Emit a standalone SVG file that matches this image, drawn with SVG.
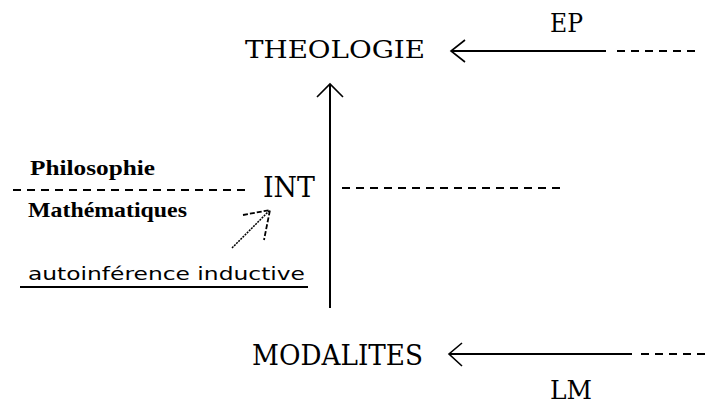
<svg xmlns="http://www.w3.org/2000/svg" width="711" height="405" viewBox="0 0 711 405">
<style>
.big{font-family:"DejaVu Serif","Liberation Serif",serif;fill:#000}
.small{font-family:"Liberation Serif","DejaVu Serif",serif;font-weight:bold;font-size:21px;fill:#000}
.sans{font-family:"DejaVu Sans","Liberation Sans",sans-serif;font-size:18px;fill:#000}
.solid{stroke:#000;stroke-width:2;fill:none}
.head{stroke:#000;stroke-width:1.6;fill:none}
.dash{stroke:#000;stroke-width:2;fill:none;stroke-dasharray:8 6}
</style>
<rect width="711" height="405" fill="#fff"/>
<g id="theologie"><text class="big" x="245" y="58" font-size="25" textLength="180" lengthAdjust="spacingAndGlyphs">THEOLOGIE</text></g>
<g id="ep"><text class="big" x="550" y="32" font-size="26" textLength="33" lengthAdjust="spacingAndGlyphs">EP</text></g>
<g id="int"><text class="big" x="263" y="197" font-size="28" textLength="52" lengthAdjust="spacingAndGlyphs">INT</text></g>
<g id="modalites"><text class="big" x="252" y="365" font-size="27" textLength="171" lengthAdjust="spacingAndGlyphs">MODALITES</text></g>
<g id="lm"><text class="big" x="550" y="399" font-size="26" textLength="42" lengthAdjust="spacingAndGlyphs">LM</text></g>
<g id="philosophie"><text class="small" x="30" y="175" textLength="125" lengthAdjust="spacingAndGlyphs">Philosophie</text></g>
<g id="mathematiques"><text class="small" x="28" y="217" textLength="159" lengthAdjust="spacingAndGlyphs">Mathématiques</text></g>
<g id="autoinference"><text class="sans" x="28" y="280" textLength="277" lengthAdjust="spacingAndGlyphs">autoinférence inductive</text><line class="solid" x1="20" y1="287" x2="308" y2="287"/></g>
<g id="connectors">
<line class="solid" x1="451" y1="51" x2="606" y2="51"/>
<line class="dash" x1="617" y1="51" x2="700" y2="51"/>
<polyline class="head" points="465,40 451,51 465,62"/>
<line class="solid" x1="449" y1="354" x2="632" y2="354"/>
<line class="dash" x1="641" y1="354" x2="711" y2="354"/>
<polyline class="head" points="462,343 449,354 462,366"/>
<line class="solid" x1="330" y1="84" x2="330" y2="308"/>
<polyline class="head" points="317,97 330,84 343,97"/>
<line class="dash" x1="13" y1="190" x2="246" y2="190"/>
<line class="dash" x1="342" y1="188" x2="565" y2="188"/>
<line x1="232" y1="248" x2="269" y2="211" stroke="#000" stroke-width="1.5" stroke-dasharray="2 1"/>
<polyline points="243,215 270,210 264,240" fill="none" stroke="#000" stroke-width="1.8" stroke-dasharray="5 2"/>
</g>
</svg>
